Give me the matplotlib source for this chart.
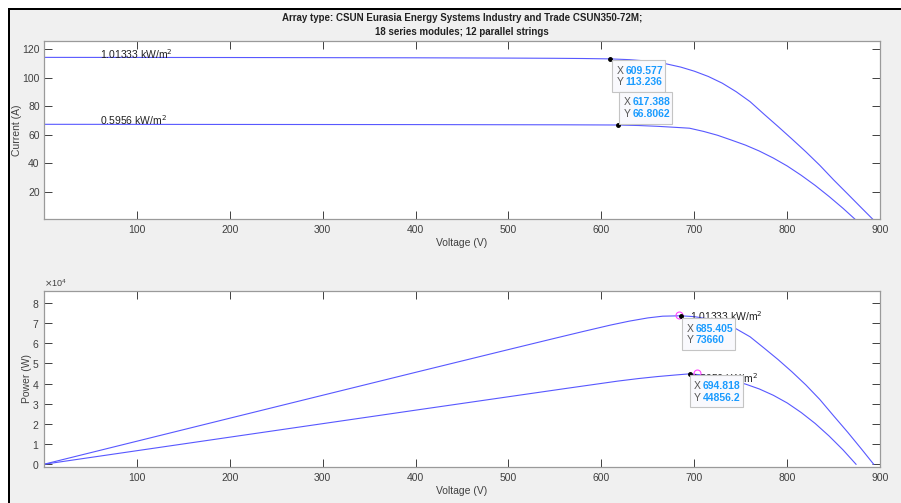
import numpy as np
import matplotlib
matplotlib.use('Agg')
import matplotlib.pyplot as plt
from matplotlib.patches import Rectangle
from matplotlib.transforms import IdentityTransform

plt.rcParams['font.family'] = ['Liberation Sans', 'DejaVu Sans']

## I-V / P-V curve, 1.01333 kW/m^2
v1 = [0, 100, 200, 300, 400, 500, 550, 580, 609.577, 630, 650, 666, 685.405,
      700, 715, 730, 745, 760, 775, 790, 805, 820, 835, 850, 865, 880, 893]
i1 = [114.3, 114.25, 114.2, 114.1, 114.0, 113.8, 113.65, 113.5, 113.236, 112.7,
      111.7, 110.3, 107.47, 104.6, 100.9, 96.2, 90.2, 83.2, 74.4, 65.8, 57.0,
      48.0, 38.5, 28.2, 18.4, 8.5, 0.0]
p1 = [0, 11425, 22840, 34230, 45600, 56900, 62508, 65830, 69026, 71001, 72605,
      73460, 73660, 73220, 72144, 70226, 67199, 63232, 57660, 51982, 45885,
      39360, 32148, 23970, 15916, 7480, 0]

## I-V / P-V curve, 0.5956 kW/m^2
v2 = [0, 100, 200, 300, 400, 500, 560, 617.388, 640, 660, 680, 694.818, 710,
      725, 740, 755, 770, 785, 800, 815, 830, 845, 860, 874]
i2 = [67.3, 67.25, 67.2, 67.15, 67.1, 67.0, 66.95, 66.8062, 66.45, 65.9, 65.15,
      64.56, 62.3, 59.6, 56.2, 52.7, 48.5, 43.6, 38.0, 31.5, 24.4, 16.6, 8.3, 0.0]
p2 = [0, 6725, 13440, 20145, 26840, 33500, 37492, 41245, 42528, 43494, 44302,
      44856.2, 44233, 43210, 41588, 39789, 37345, 34226, 30400, 25673, 20252,
      14027, 7138, 0]

labels = ['1.01333 kW/m$^2$', '0.5956 kW/m$^2$']
title_lines = ['Array type: CSUN Eurasia Energy Systems Industry and Trade CSUN350-72M;',
               '18 series modules; 12 parallel strings']

# data tips and max power markers
tips_iv = [(609.577, 113.236), (617.388, 66.8062)]
tips_pv = [(685.405, 73660), (694.818, 44856.2)]
tip_text_iv = [('609.577', '113.236'), ('617.388', '66.8062')]
tip_text_pv = [('685.405', '73660'), ('694.818', '44856.2')]
mpp_v = [683, 703]
mpp_p = [74000, 45300]

W, H = 901, 503
fig = plt.figure(figsize=(W / 100, H / 100), dpi=100, facecolor='#f0f0f0')

# white page strip + black frame edge (screenshot crop)
fig.patches.append(Rectangle((0, 1 - 8 / H), 1, 8 / H, transform=fig.transFigure,
                             facecolor='white', edgecolor='none', zorder=0))
fig.patches.append(Rectangle((0, 0), 8 / W, 1, transform=fig.transFigure,
                             facecolor='white', edgecolor='none', zorder=0))
fig.patches.append(Rectangle((8 / W, 0), 2 / W, 1 - 8 / H, transform=fig.transFigure,
                             facecolor='black', edgecolor='none', zorder=1))
fig.patches.append(Rectangle((8 / W, 1 - 10 / H), 1, 2 / H, transform=fig.transFigure,
                             facecolor='black', edgecolor='none', zorder=1))

ax1 = fig.add_axes([43.8 / W, (H - 219) / H, 836.4 / W, 178 / H])
ax2 = fig.add_axes([43.8 / W, (H - 466.7) / H, 836.4 / W, 176 / H])

line_c = '#5858ff'
tick_c = '#404040'
val_c = '#1a9bff'
fs = 7.5


def style(ax):
    ax.set_facecolor('white')
    ax.set_xlim(0, 900)
    ax.set_xticks(range(100, 901, 100))
    ax.tick_params(direction='in', length=5.5, width=0.7, colors=tick_c,
                   labelsize=fs, top=True, right=True)
    ax.tick_params(axis='x', pad=4.5)
    ax.tick_params(axis='y', pad=3)
    for s in ax.spines.values():
        s.set_color('#9a9a9a')
        s.set_linewidth(0.9)
    ax.set_xlabel('Voltage (V)', fontsize=fs, color=tick_c, labelpad=2)


def datatip(ax, xy, xs, ys, dx, dy):
    # box in pixels, top-left corner at (dx, dy) pixels from the data point
    px, py = ax.transData.transform(xy)
    bw, bh = 53, 32
    left, top = px + dx, py - dy
    box = Rectangle((left, top - bh), bw, bh, transform=IdentityTransform(),
                    facecolor='#f9f9fd', edgecolor='#c4c4c4', linewidth=0.8,
                    zorder=6, clip_on=False)
    ax.add_artist(box)
    kw = dict(xy=xy, xycoords='data', textcoords='offset pixels',
              ha='left', va='center', fontsize=fs, zorder=7)
    for k, (name, val) in enumerate((('X', xs), ('Y', ys))):
        yo = -dy - 10.7 - 11.6 * k
        ax.annotate(name, xytext=(dx + 4.5, yo), color='#555555', **kw)
        ax.annotate(val, xytext=(dx + 13.5, yo), color=val_c, fontweight='bold', **kw)


# --- I-V
style(ax1)
ax1.plot(v1, i1, color=line_c, lw=0.8)
ax1.plot(v2, i2, color=line_c, lw=0.8)
ax1.set_ylim(0.8, 125.8)
ax1.set_yticks(range(20, 121, 20))
ax1.set_ylabel('Current (A)', fontsize=fs, color=tick_c)
ax1.yaxis.set_label_coords(-0.0262, 0.5)
ax1.text(60, 116.6, labels[0], fontsize=fs, va='center', color='#222222')
ax1.text(60, 70.3, labels[1], fontsize=fs, va='center', color='#222222')
for (x, y) in tips_iv:
    ax1.plot(x, y, 'o', ms=2.5, color='black', zorder=5)
ax1.set_title('\n'.join(title_lines), fontsize=7, fontweight='bold',
              color='#222222', pad=4, linespacing=1.6)

# --- P-V
style(ax2)
ax2.plot(v1, p1, color=line_c, lw=0.8)
ax2.plot(v2, p2, color=line_c, lw=0.8)
ax2.set_ylim(-1200, 86100)
ax2.set_yticks(np.arange(0, 80001, 10000))
ax2.ticklabel_format(axis='y', style='sci', scilimits=(4, 4), useMathText=True)
ax2.yaxis.get_offset_text().set_fontsize(6.5)
ax2.yaxis.get_offset_text().set_color(tick_c)
ax2.set_ylabel('Power (W)', fontsize=fs, color=tick_c)
ax2.yaxis.set_label_coords(-0.0141, 0.5)
ax2.text(695, 73400, labels[0], fontsize=fs, va='center', color='#222222')
ax2.text(696, 42700, labels[1], fontsize=fs, va='center', color='#222222')
ax2.plot(mpp_v, mpp_p, 'o', ms=5, mfc='none', mec='#ff44ff', mew=0.8, ls='none', zorder=4)
for (x, y) in tips_pv:
    ax2.plot(x, y, 'o', ms=2.5, color='black', zorder=5)

# datatips need final axes limits for pixel placement
datatip(ax1, tips_iv[0], *tip_text_iv[0], 1.7, 1.3)
datatip(ax1, tips_iv[1], *tip_text_iv[1], 1.6, -33.3)
datatip(ax2, tips_pv[0], *tip_text_pv[0], 1.3, 2.4)
datatip(ax2, tips_pv[1], *tip_text_pv[1], 0, 1.4)

fig.savefig('out.png', dpi=100, facecolor=fig.get_facecolor())
